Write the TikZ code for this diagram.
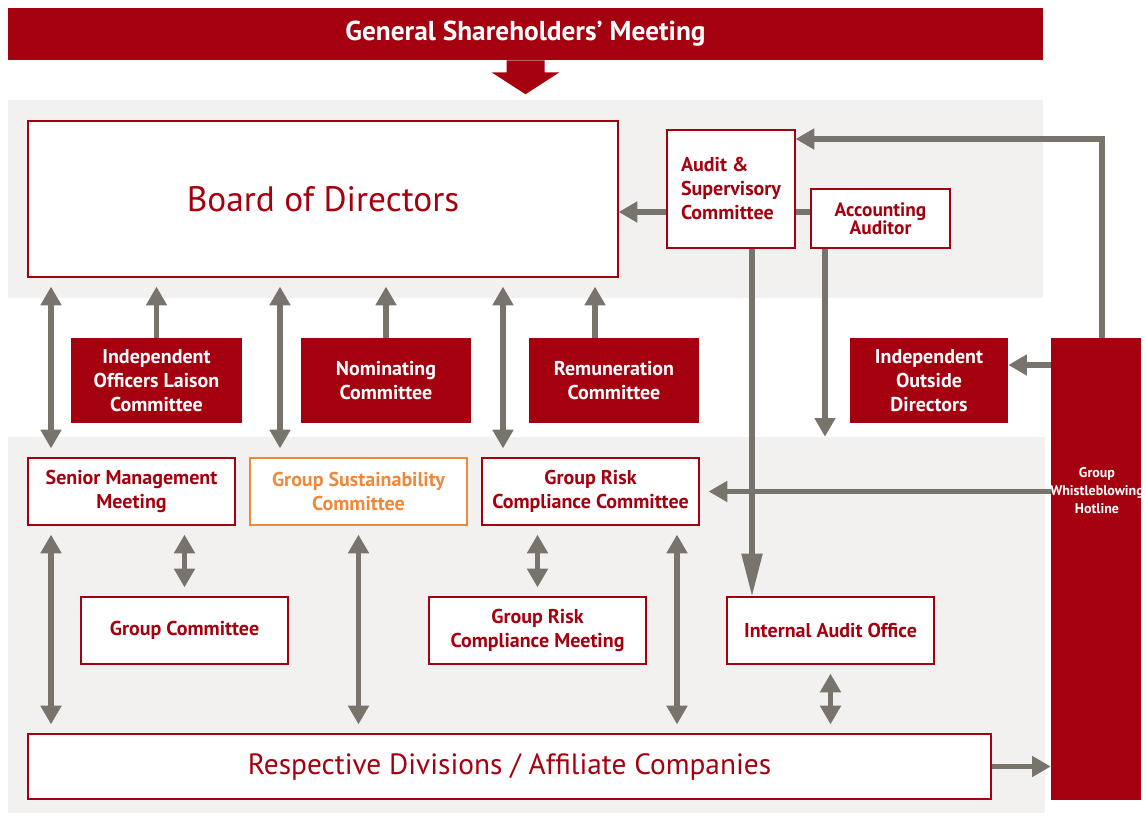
\documentclass[tikz,border=0pt]{standalone}
\usepackage{fontspec}
\setmainfont{PT Sans}
\usetikzlibrary{arrows.meta,positioning}

\definecolor{corpred}{HTML}{A5000F}
\definecolor{panelgrey}{HTML}{F2F1EF}
\definecolor{linegrey}{HTML}{78746C}
\definecolor{sustorange}{HTML}{F0883A}

\tikzset{
  panel/.style={fill=panelgrey, inner sep=0pt},
  whitebox/.style={draw=corpred, fill=white, line width=0.9pt, text=corpred,
    align=center, inner sep=0pt, font=\bfseries\fontsize{15}{18}\selectfont},
  redbox/.style={fill=corpred, text=white, align=center, inner sep=0pt,
    font=\bfseries\fontsize{15}{18}\selectfont},
  flow/.style={draw=linegrey, line width=3.8pt, -{Triangle[width=15pt,length=14pt]}},
  twoway/.style={flow, {Triangle[width=15pt,length=14pt]}-{Triangle[width=15pt,length=14pt]},
    shorten <=6.75pt, shorten >=6.75pt},
  plainline/.style={draw=linegrey, line width=3.8pt},
}

% (x1, y1, x2, y2) in pixels of the sheet
\newcommand{\orgbox}[7]{
  \node[#1, minimum width={(#5-#3)*0.75pt}, minimum height={(#6-#4)*0.75pt}]
    (#2) at ({(#3+#5)/2}, {(#4+#6)/2}) {#7};
}

\begin{document}
\begin{tikzpicture}[x=0.75pt, y=-0.75pt]

  \useasboundingbox (0,0) rectangle (1145,816);

  \orgbox{panel}{upper}{8}{100}{1043}{298}{}
  \orgbox{panel}{lower}{8}{437}{1045}{813}{}

  \orgbox{redbox, font=\bfseries\fontsize{20.5}{24}\selectfont}{gsm}{8}{8}{1043}{60}{General Shareholders' Meeting}
  \fill[corpred, shift={(gsm.south)}]
    (-19,0) -- (19,0) -- (19,12) -- (34,12) -- (0,34) -- (-34,12) -- (-19,12) -- cycle;

  \orgbox{whitebox, font=\fontsize{26.5}{30}\selectfont}{board}{28}{121}{618}{277}{Board of Directors}
  \orgbox{whitebox, align=left}{audit}{667}{130}{795}{248}{Audit \&\\Supervisory\\Committee}
  \orgbox{whitebox, font=\bfseries\fontsize{14.5}{13.5}\selectfont}{acct}{811}{189}{950}{248}{Accounting\\Auditor}

  \orgbox{redbox}{liaison}{71}{338}{242}{423}{Independent\\Officers Laison\\Committee}
  \orgbox{redbox}{nominate}{301}{338}{471}{423}{Nominating\\Committee}
  \orgbox{redbox}{remun}{529}{338}{699}{423}{Remuneration\\Committee}
  \orgbox{redbox}{outside}{850}{338}{1008}{423}{Independent\\Outside\\Directors}
  \orgbox{redbox}{hotline}{1051}{338}{1141}{800}{}
  \node[redbox, fill=none, font=\bfseries\fontsize{10.5}{13.5}\selectfont] (hottext)
    at (1097,491) {Group\\Whistleblowing\\Hotline};

  \orgbox{whitebox}{senior}{28}{458}{235}{525}{Senior Management\\Meeting}
  \orgbox{whitebox, draw=sustorange, text=sustorange}{sustain}{250}{458}{467}{525}{Group Sustainability\\Committee}
  \orgbox{whitebox}{riskcom}{482}{458}{699}{525}{Group Risk\\Compliance Committee}
  \orgbox{whitebox}{groupcom}{81}{597}{288}{664}{Group Committee}
  \orgbox{whitebox}{riskmeet}{429}{597}{646}{664}{Group Risk\\Compliance Meeting}
  \orgbox{whitebox}{intaudit}{727}{597}{934}{664}{Internal Audit Office}
  \orgbox{whitebox, font=\fontsize{22}{26}\selectfont}{divisions}{28}{734}{991}{799}{Respective Divisions / Affiliate Companies}

  % columns and rows the connectors run on
  \coordinate (colA) at (51,0);
  \coordinate (colB) at (280,0);
  \coordinate (colC) at (503,0);
  \coordinate (colD) at (595,0);
  \coordinate (colE) at (752,0);
  \coordinate (colF) at (825,0);
  \coordinate (colG) at (1102,0);
  \coordinate (colH) at (677,0);
  \coordinate (rowA) at (0,139);
  \coordinate (rowB) at (0,212);
  \coordinate (rowC) at (0,365);

  \draw[flow] (audit.west |- rowB) -- (board.east |- rowB);
  \draw[plainline] (audit.east |- rowB) -- (acct.west |- rowB);
  \draw[flow] (colG |- hotline.north) |- (audit.east |- rowA);
  \draw[flow, -{Triangle[width=15pt,length=32pt]}] (colE |- audit.south) -- (colE |- intaudit.north);
  \draw[flow] (colF |- acct.south) -- (colF |- lower.north);

  \draw[flow, shorten >=6.75pt] (liaison.north) -- (liaison.north |- board.south);
  \draw[flow, shorten >=6.75pt] (nominate.north) -- (nominate.north |- board.south);
  \draw[flow, shorten >=6.75pt] (colD |- remun.north) -- (colD |- board.south);
  \draw[twoway] (colA |- board.south) -- (colA |- senior.north);
  \draw[twoway] (colB |- board.south) -- (colB |- sustain.north);
  \draw[twoway] (colC |- board.south) -- (colC |- riskcom.north);

  \draw[flow] (hotline.west |- rowC) -- (outside.east |- rowC);
  \draw[flow, shorten >=6.75pt] (hotline.west |- riskcom.east) -- (riskcom.east);

  \draw[twoway] (colA |- senior.south) -- (colA |- divisions.north);
  \draw[twoway] (groupcom.north |- senior.south) -- (groupcom.north);
  \draw[twoway] (sustain.south) -- (sustain.south |- divisions.north);
  \draw[twoway] (riskmeet.north |- riskcom.south) -- (riskmeet.north);
  \draw[twoway] (colH |- riskcom.south) -- (colH |- divisions.north);
  \draw[twoway] (intaudit.south) -- (intaudit.south |- divisions.north);
  \draw[flow] (divisions.east) -- (divisions.east -| hotline.west);

\end{tikzpicture}
\end{document}
